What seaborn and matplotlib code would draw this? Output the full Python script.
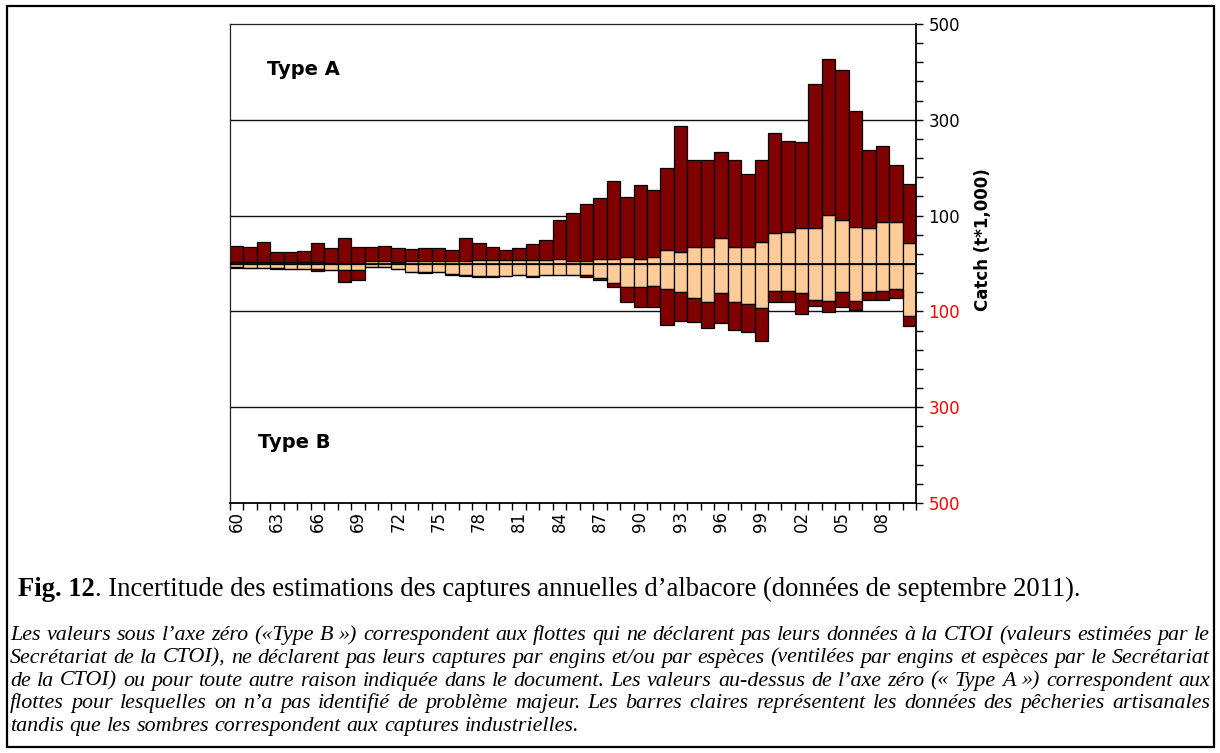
import matplotlib
matplotlib.use("Agg")
import matplotlib.pyplot as plt
from matplotlib.patches import Rectangle
from matplotlib.ticker import FixedLocator
import numpy as np
import seaborn as sns

years = list(range(1960, 2011))

# Type A (au-dessus de zero), t*1000
typeA_artisanal = [3, 3, 3, 3, 3, 3, 3, 2, 2, 2, 5, 5, 4, 6, 6, 6, 6, 6, 7, 7,
                   7, 7, 8, 8, 10, 6, 6, 9, 9, 14, 9, 14, 28, 23, 35, 35, 54, 35, 34, 44,
                   63, 66, 75, 75, 101, 91, 77, 75, 87, 87, 42]
typeA_industrial = [34, 31, 42, 20, 20, 23, 39, 30, 51, 32, 29, 32, 29, 24, 26, 26, 22, 48, 35, 27,
                    21, 25, 32, 42, 81, 99, 118, 128, 163, 125, 155, 139, 171, 264, 181, 181, 178, 181, 152, 172,
                    210, 190, 178, 299, 325, 314, 241, 162, 158, 119, 125]

# Type B (sous zero), t*1000
typeB_artisanal = [8, 9, 9, 10, 11, 12, 12, 14, 14, 14, 7, 7, 11, 17, 18, 18, 22, 24, 27, 27,
                   26, 24, 27, 24, 24, 23, 24, 31, 41, 50, 50, 46, 53, 59, 71, 80, 62, 80, 84, 92,
                   57, 57, 61, 76, 78, 60, 78, 60, 57, 54, 109]
typeB_industrial = [1, 0, 0, 2, 0, 0, 3, 0, 25, 21, 0, 0, 0, 1, 1, 0, 1, 2, 1, 1,
                    1, 1, 1, 1, 1, 2, 4, 4, 9, 30, 40, 44, 75, 61, 52, 54, 63, 59, 60, 69,
                    23, 23, 45, 12, 23, 30, 19, 16, 19, 17, 21]

y_ticks = [-500, -300, -100, 100, 300, 500]
y_ticklabels = ["500", "300", "100", "100", "300", "500"]

LIGHT = "#FFCC99"
DARK = "#800000"

sns.set_theme(style="white")
plt.rcParams["font.family"] = ["DejaVu Sans"]
plt.rcParams["text.color"] = "black"
plt.rcParams["axes.labelcolor"] = "black"
plt.rcParams["xtick.color"] = "black"
plt.rcParams["ytick.color"] = "black"

W, H = 1220, 753
fig = plt.figure(figsize=(W / 100, H / 100), dpi=100)
ax = fig.add_axes([230 / W, 1 - 503 / H, 686 / W, 479 / H])

for v in [-300, -100, 100, 300]:
    ax.axhline(v, color="#111111", lw=1.0, zorder=0)

aA = np.array(typeA_artisanal)
aB = np.array(typeB_artisanal)
bar_kw = dict(width=1.0, edgecolor="black", linewidth=0.9, errorbar=None,
              saturation=1, ax=ax, zorder=2)
sns.barplot(x=years, y=aA, color=LIGHT, **bar_kw)
sns.barplot(x=years, y=np.array(typeA_industrial), bottom=aA, color=DARK, **bar_kw)
sns.barplot(x=years, y=-aB, color=LIGHT, **bar_kw)
sns.barplot(x=years, y=-np.array(typeB_industrial), bottom=-aB, color=DARK, **bar_kw)
ax.axhline(0, color="black", lw=1.2, zorder=5)

ax.set_xlim(-0.5, len(years) - 0.5)
ax.set_ylim(-500, 500)

# axe y a droite
ax.yaxis.tick_right()
ax.yaxis.set_major_locator(FixedLocator(y_ticks))
ax.set_yticklabels(y_ticklabels)
for lab, v in zip(ax.get_yticklabels(), y_ticks):
    lab.set_color("red" if v < 0 else "black")
ax.yaxis.set_minor_locator(FixedLocator(np.arange(-500, 501, 40)))
ax.tick_params(axis="y", which="both", right=True, left=False, direction="out",
               length=5, width=1, color="black", labelsize=12, pad=4)
ax.set_ylabel("")

# axe x
pos = np.arange(0, len(years), 3)
ax.xaxis.set_major_locator(FixedLocator(pos))
ax.set_xticklabels([f"{years[i] % 100:02d}" for i in pos], rotation=90)
ax.xaxis.set_minor_locator(FixedLocator(np.arange(-0.5, len(years), 1)))
ax.tick_params(axis="x", which="major", bottom=True, length=0, labelsize=12, pad=6,
               labelcolor="black")
ax.tick_params(axis="x", which="minor", bottom=True, direction="out", length=5,
               width=1, color="black")

for s in ["left", "top"]:
    ax.spines[s].set_color("#222222")
    ax.spines[s].set_linewidth(0.9)
for s in ["right", "bottom"]:
    ax.spines[s].set_color("black")
    ax.spines[s].set_linewidth(1.3)

ax.text(2.25, 404, "Type A", fontsize=14, fontweight="bold", va="center", ha="left")
ax.text(1.6, -373, "Type B", fontsize=14, fontweight="bold", va="center", ha="left")

fig.text(983 / W, 1 - 240 / H, "Catch (t*1,000)", rotation=90, fontsize=12,
         fontweight="bold", ha="center", va="center")

# cadre exterieur
fig.add_artist(Rectangle((7 / W, 6 / H), 1207 / W, 741 / H, transform=fig.transFigure,
                         fill=False, edgecolor="black", lw=1.6))

# legende sous la figure
r = fig.canvas.get_renderer()
serif = "Liberation Serif"


def put_words(words, y, x0, x1, justify, **kw):
    items = [fig.text(0, 1 - y / H, w, family=serif, va="baseline", ha="left", **kw)
             for w in words]
    ws = [t.get_window_extent(r).width for t in items]
    sp = fig.text(0, 0, "a a", family=serif, **kw)
    sp2 = fig.text(0, 0, "aa", family=serif, **kw)
    space = sp.get_window_extent(r).width - sp2.get_window_extent(r).width
    sp.remove()
    sp2.remove()
    gap = (x1 - x0 - sum(ws)) / (len(words) - 1) if justify else space
    x = x0
    for t, w in zip(items, ws):
        t.set_x(x / W)
        x += w + gap
    return x


t1 = fig.text(18 / W, 1 - 596 / H, "Fig. 12", family=serif, fontsize=19.2,
              fontweight="bold", va="baseline", ha="left")
x_end = 18 + t1.get_window_extent(r).width
fig.text(x_end / W, 1 - 596 / H,
         ". Incertitude des estimations des captures annuelles d’albacore (données de septembre 2011).",
         family=serif, fontsize=19.2, va="baseline", ha="left")

para = [
    "Les valeurs sous l’axe zéro («Type B ») correspondent aux flottes qui ne déclarent pas leurs données à la CTOI (valeurs estimées par le",
    "Secrétariat de la CTOI), ne déclarent pas leurs captures par engins et/ou par espèces (ventilées par engins et espèces par le Secrétariat",
    "de la CTOI) ou pour toute autre raison indiquée dans le document. Les valeurs au-dessus de l’axe zéro (« Type A ») correspondent aux",
    "flottes pour lesquelles on n’a pas identifié de problème majeur. Les barres claires représentent les données des pêcheries artisanales",
    "tandis que les sombres correspondent aux captures industrielles.",
]
for i, line in enumerate(para):
    put_words(line.split(), 640 + i * 22.8, 10, 1210, i < len(para) - 1,
              fontsize=15.8, style="italic")

fig.savefig("out.png", dpi=100, facecolor="white")
